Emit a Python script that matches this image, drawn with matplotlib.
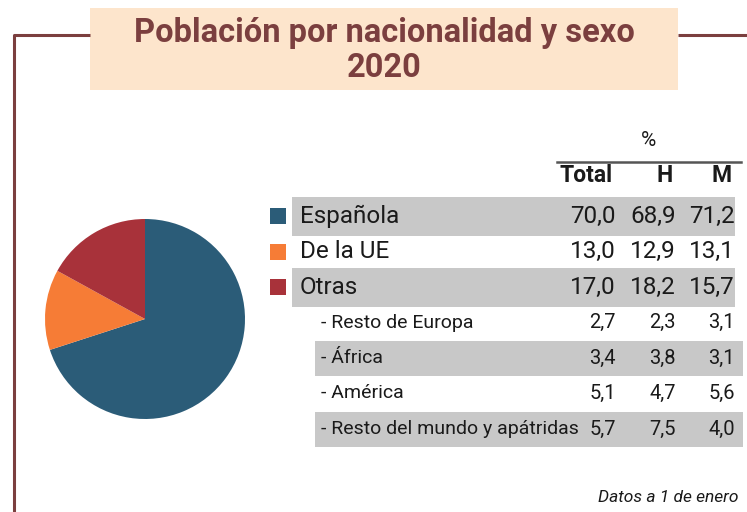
import matplotlib
matplotlib.use("Agg")
import matplotlib.pyplot as plt
from matplotlib.patches import Rectangle

# ---- datos (% de población, 1 de enero de 2020) ----
categorias = ["Española", "De la UE", "Otras"]
total = [70.0, 13.0, 17.0]
hombres = [68.9, 12.9, 18.2]
mujeres = [71.2, 13.1, 15.7]

subcategorias = ["Resto de Europa", "África", "América", "Resto del mundo y apátridas"]
sub_total = [2.7, 3.4, 5.1, 5.7]
sub_hombres = [2.3, 3.8, 4.7, 7.5]
sub_mujeres = [3.1, 3.1, 5.6, 4.0]

colores = ["#2b5c78", "#f67c36", "#a8323a"]
MARRON = "#7b3f3f"
TEXTO = "#1a1a1a"
GRIS = "#c8c8c8"
W, H = 747, 512


def fmt(v):
    return f"{v:.1f}".replace(".", ",")


fig = plt.figure(figsize=(W / 100, H / 100), dpi=100)
ax = fig.add_axes([0, 0, 1, 1])
ax.set_xlim(0, W)
ax.set_ylim(H, 0)
ax.axis("off")

# ---- marco y título ----
ax.plot([14, 14, 90], [H, 35, 35], color=MARRON, lw=2.2, solid_capstyle="butt")
ax.plot([678, W], [35, 35], color=MARRON, lw=2.2, solid_capstyle="butt")
ax.add_patch(Rectangle((90, 8), 588, 82, color="#fde5cc", lw=0))
ax.text(384, 33, "Población por nacionalidad y sexo", ha="center", va="center",
        fontsize=23.5, fontweight="bold", color=MARRON, family="Roboto")
ax.text(384, 68, "2020", ha="center", va="center",
        fontsize=23.5, fontweight="bold", color=MARRON, family="Roboto")

# ---- tarta ----
ax_pie = fig.add_axes([45 / W, (H - 419) / H, 200 / W, 200 / H])
ax_pie.pie(total, colors=colores, startangle=90, counterclock=False,
           wedgeprops={"linewidth": 0})
ax_pie.set_xlim(-1, 1)
ax_pie.set_ylim(-1, 1)
ax_pie.set_aspect("equal")

# ---- tabla ----
font = "Roboto"
cols_x = [616, 676, 735]
ax.text(649, 141, "%", ha="center", va="center", fontsize=15, color=TEXTO, family=font)
ax.plot([557, 741], [162, 162], color="#555555", lw=1.8)
for x, lab in zip([613, 673, 732], ["Total", "H", "M"]):
    ax.text(x, 176, lab, ha="right", va="center", fontsize=16.5, fontweight="bold",
            color=TEXTO, family=font)

paso = 35.5
y0 = 216
for i, (cat, t, h, m) in enumerate(zip(categorias, total, hombres, mujeres)):
    y = y0 + paso * i
    if i % 2 == 0:
        ax.add_patch(Rectangle((292, y - 19), 443, 39, color=GRIS, lw=0))
    ax.add_patch(Rectangle((270, y - 8), 16, 16, color=colores[i], lw=0))
    ax.text(300, y, cat, ha="left", va="center", fontsize=17.5, color=TEXTO, family=font)
    for x, v in zip(cols_x, [t, h, m]):
        ax.text(x, y, fmt(v), ha="right", va="center", fontsize=17.5, color=TEXTO, family=font)

for j, (cat, t, h, m) in enumerate(zip(subcategorias, sub_total, sub_hombres, sub_mujeres)):
    i = j + len(categorias)
    y = y0 + paso * i
    if i % 2 == 0:
        ax.add_patch(Rectangle((315, y - 17.5), 428, 35, color=GRIS, lw=0))
    ax.text(321, y, "- " + cat, ha="left", va="center", fontsize=14, color=TEXTO, family=font)
    for x, v in zip(cols_x, [t, h, m]):
        ax.text(x, y, fmt(v), ha="right", va="center", fontsize=14.5, color=TEXTO, family=font)

ax.text(738, 498, "Datos a 1 de enero", ha="right", va="center", fontsize=12.5,
        style="italic", color=TEXTO, family=font)

fig.savefig("out.png", dpi=100)
